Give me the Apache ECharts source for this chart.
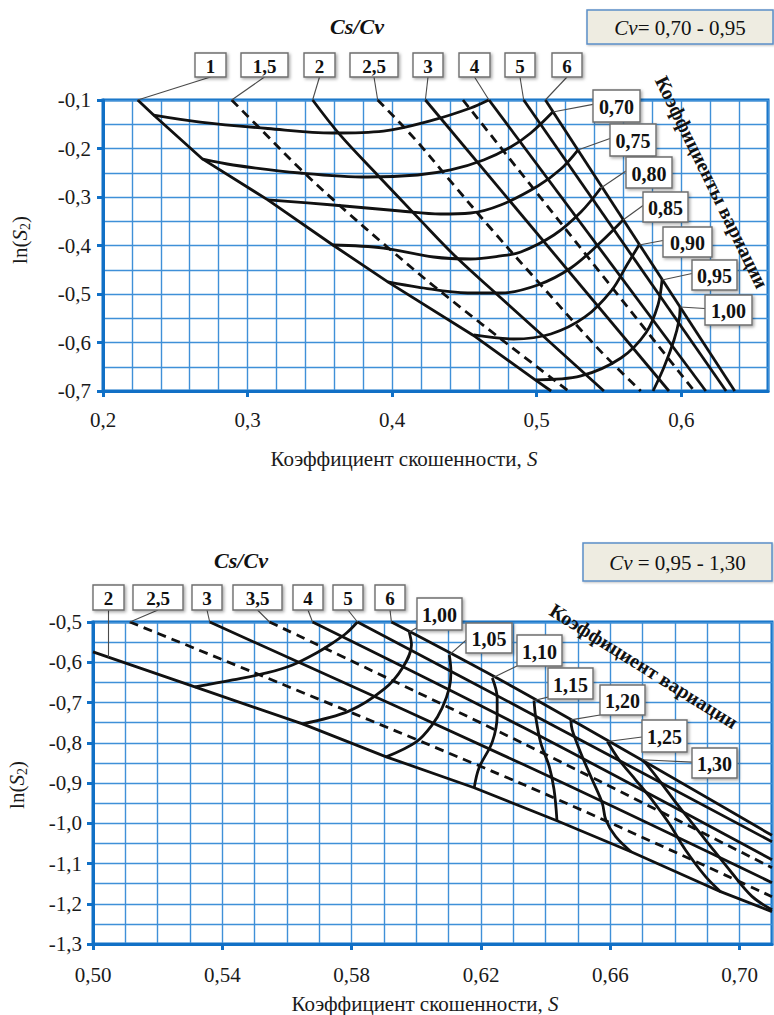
<!DOCTYPE html>
<html><head><meta charset="utf-8">
<script src="https://cdn.jsdelivr.net/npm/echarts@6/dist/echarts.min.js"></script>
<style>html,body{margin:0;padding:0;background:#fff}#c{width:774px;height:1015px}</style>
</head><body><div id="c"></div>
<script>
// ---------------- DATA ----------------
// tick labels
const topXTicks = [0.2, 0.3, 0.4, 0.5, 0.6];
const topYTicks = [-0.7, -0.6, -0.5, -0.4, -0.3, -0.2, -0.1];
const botXTicks = [0.50, 0.54, 0.58, 0.62, 0.66, 0.70];
const botYTicks = [-1.3, -1.2, -1.1, -1.0, -0.9, -0.8, -0.7, -0.6, -0.5];

// category labels
const topCsLabels = ['1', '1,5', '2', '2,5', '3', '4', '5', '6'];
const topCvLabels = ['0,70', '0,75', '0,80', '0,85', '0,90', '0,95', '1,00'];
const botCsLabels = ['2', '2,5', '3', '3,5', '4', '5', '6'];
const botCvLabels = ['1,00', '1,05', '1,10', '1,15', '1,20', '1,25', '1,30'];

// top chart, Cs/Cv lines  [S, ln(S2)]
const topCs1   = [[0.224,-0.1],[0.235,-0.131],[0.269,-0.222],[0.314,-0.306],[0.359,-0.399],[0.397,-0.475],[0.456,-0.585],[0.499,-0.677],[0.510,-0.7]];
const topCs1_5 = [[0.289,-0.1],[0.309,-0.16],[0.3365,-0.2425],[0.366,-0.3236],[0.397,-0.404],[0.429,-0.484],[0.473,-0.5875],[0.522,-0.7]];
const topCs2   = [[0.345,-0.1],[0.364,-0.172],[0.390,-0.255],[0.418,-0.343],[0.445,-0.426],[0.473,-0.502],[0.5465,-0.7]];
const topCs2_5 = [[0.390,-0.1],[0.415,-0.178],[0.4426,-0.275],[0.468,-0.364],[0.501,-0.475],[0.542,-0.611],[0.572,-0.7]];
const topCs3   = [[0.423,-0.1],[0.5915,-0.7]];
const topCs3_5 = [[0.449,-0.1],[0.609,-0.7]];
const topCs4   = [[0.467,-0.1],[0.617,-0.7]];
const topCs5   = [[0.491,-0.1],[0.631,-0.7]];
const topCs6   = [[0.506,-0.1],[0.637,-0.7]];

// top chart, Cv curves
const topCvTop = [[0.235,-0.131],[0.2672,-0.1454],[0.314,-0.1588],[0.359,-0.168],[0.394,-0.164],[0.4287,-0.141],[0.4543,-0.1165],[0.4668,-0.1]];
const topCv070 = [[0.269,-0.222],[0.290,-0.234],[0.3365,-0.2505],[0.383,-0.2588],[0.4176,-0.2546],[0.4405,-0.2443],[0.4633,-0.2237],[0.482,-0.197],[0.4959,-0.168],[0.5111,-0.1247]];
const topCv075 = [[0.314,-0.306],[0.359,-0.3165],[0.4058,-0.3289],[0.4335,-0.335],[0.4543,-0.333],[0.4751,-0.3165],[0.5008,-0.2773],[0.5167,-0.2423],[0.5285,-0.2031]];
const topCv080 = [[0.359,-0.399],[0.394,-0.4052],[0.4287,-0.4237],[0.4543,-0.4278],[0.4751,-0.4216],[0.489,-0.4134],[0.5119,-0.3784],[0.5306,-0.3309],[0.5444,-0.2814]];
const topCv085 = [[0.397,-0.475],[0.4176,-0.4856],[0.4523,-0.4979],[0.4751,-0.4979],[0.5008,-0.4814],[0.5236,-0.4464],[0.5444,-0.3928],[0.5597,-0.3474]];
const topCv090 = [[0.4564,-0.5845],[0.4841,-0.5928],[0.5098,-0.5825],[0.5334,-0.5474],[0.552,-0.4918],[0.5624,-0.4402],[0.5708,-0.399]];
const topCv095 = [[0.4994,-0.677],[0.5306,-0.669],[0.5583,-0.632],[0.5756,-0.58],[0.5839,-0.5227],[0.5867,-0.4711]];
const topCv100 = [[0.5805,-0.7],[0.5881,-0.6505],[0.595,-0.5948],[0.5985,-0.5536],[0.5992,-0.5268]];

// bottom chart, Cs/Cv lines
const botCs2   = [[0.5,-0.5744],[0.5315,-0.6613],[0.5648,-0.7531],[0.5907,-0.835],[0.6179,-0.9119],[0.6435,-0.9938],[0.6664,-1.0707],[0.6941,-1.17],[0.71,-1.2196]];
const botCs2_5 = [[0.5114,-0.5],[0.6333,-0.9045],[0.71,-1.1824]];
const botCs3   = [[0.5361,-0.5],[0.6333,-0.8548],[0.71,-1.1476]];
const botCs3_5 = [[0.5546,-0.5],[0.6333,-0.8027],[0.71,-1.1104]];
const botCs4   = [[0.5679,-0.5],[0.6333,-0.763],[0.71,-1.0906]];
const botCs5   = [[0.5818,-0.5],[0.6333,-0.7184],[0.71,-1.046]];
const botCs6   = [[0.5923,-0.5],[0.6333,-0.6762],[0.71,-1.030]];

// bottom chart, Cv curves
const botCvTop = [[0.5315,-0.6613],[0.5432,-0.6439],[0.5537,-0.6266],[0.5617,-0.6067],[0.5691,-0.5769],[0.5741,-0.5521],[0.5784,-0.5273],[0.5818,-0.5]];
const botCv100 = [[0.5648,-0.7531],[0.5793,-0.7208],[0.5901,-0.6663],[0.5957,-0.6141],[0.5985,-0.5571],[0.5978,-0.5248]];
const botCv105 = [[0.5907,-0.835],[0.6,-0.7978],[0.6049,-0.7556],[0.608,-0.7134],[0.6102,-0.6638],[0.6107,-0.6233],[0.6102,-0.5819]];
const botCv110 = [[0.6179,-0.9119],[0.6194,-0.8623],[0.6235,-0.7978],[0.625,-0.7308],[0.625,-0.6886],[0.6235,-0.639]];
const botCv115 = [[0.6435,-0.9938],[0.6426,-0.9169],[0.6411,-0.859],[0.6385,-0.801],[0.6369,-0.735],[0.6364,-0.695]];
const botCv120 = [[0.6664,-1.0707],[0.6616,-1.0328],[0.6586,-0.9913],[0.6575,-0.95],[0.6544,-0.892],[0.6513,-0.8342],[0.6482,-0.768],[0.6478,-0.7432]];
const botCv125 = [[0.6941,-1.17],[0.6894,-1.132],[0.6832,-1.0658],[0.6781,-0.9995],[0.6729,-0.9417],[0.6678,-0.892],[0.6627,-0.8424],[0.6591,-0.797]];
const botCv130 = [[0.71,-1.215],[0.7038,-1.1816],[0.6976,-1.1236],[0.6894,-1.041],[0.6812,-0.9583],[0.675,-0.892],[0.6709,-0.8506],[0.6698,-0.8424]];

// ---------------- LAYOUT / STYLE ----------------
const FONT = 'Liberation Serif';
const GRID = '#3f90d8';
const AXIS = '#1170c6';
const INK = '#111';

const topCsBoxes = [[195,31],[241,47],[304,31],[350,48],[413,30],[459,31],[505,30],[552,30]]; // x,w ; y=53 h=24
const topCvBoxes = [[593,90,47,32],[610,124,46,32],[626,157,46,31],[643,192,45,30],[663,227,49,30],[692,260,45,30],[705,295,47,30]];
const botCsBoxes = [[93,31],[133,50],[192,30],[233,49],[293,30],[333,30],[375,30]]; // y=585 h=25
const botCvBoxes = [[417,598,45,32,0.93],[466,623,46,30,0.57],[517,635,45,31,1.0],[548,668,45,31,0.94],[600,685,45,30,1.0],[642,720,45,32,0.53],[692,748,45,30,0.47]];

function fmt(v, d) { return v.toFixed(d).replace('.', ','); }

function xAxes(gi, min, max, step, ticks, dec, margin) {
  return [
    {gridIndex: gi, type: 'value', min, max, interval: step,
     axisLine: {show: false}, axisTick: {show: false}, axisLabel: {show: false},
     splitLine: {show: true, lineStyle: {color: GRID, width: 1.4}}},
    {gridIndex: gi, type: 'value', position: 'bottom', min, max,
     axisLine: {show: true, onZero: false, lineStyle: {color: AXIS, width: 3}},
     axisTick: {show: true, customValues: ticks, length: 6, lineStyle: {color: AXIS, width: 3}},
     axisLabel: {show: true, customValues: ticks, formatter: v => fmt(v, dec), margin,
                 color: '#1a1a1a', fontSize: 21, fontFamily: FONT},
     splitLine: {show: false}}
  ];
}
function yAxes(gi, min, max, step, ticks, margin) {
  return [
    {gridIndex: gi, type: 'value', min, max, interval: step,
     axisLine: {show: false}, axisTick: {show: false}, axisLabel: {show: false},
     splitLine: {show: true, lineStyle: {color: GRID, width: 1.4}}},
    {gridIndex: gi, type: 'value', position: 'left', min, max,
     axisLine: {show: true, onZero: false, lineStyle: {color: AXIS, width: 3}},
     axisTick: {show: true, customValues: ticks, length: 6, lineStyle: {color: AXIS, width: 3}},
     axisLabel: {show: true, customValues: ticks, formatter: v => fmt(v, 1), margin,
                 color: '#1a1a1a', fontSize: 21, fontFamily: FONT},
     splitLine: {show: false}}
  ];
}

function ser(data, gi, dashed, smooth) {
  return {type: 'line', xAxisIndex: gi * 2, yAxisIndex: gi * 2, data,
    symbol: 'none', showSymbol: false, smooth: smooth ? 0.35 : false, silent: true,
    animation: false, clip: true, z: 3, emphasis: {disabled: true},
    lineStyle: {color: INK, width: 2.8, type: dashed ? [9, 6] : 'solid', join: 'round'}};
}

const series = [
  ser(topCs1, 0, false, false), ser(topCs1_5, 0, true, true), ser(topCs2, 0, false, true),
  ser(topCs2_5, 0, true, true), ser(topCs3, 0, false), ser(topCs3_5, 0, true), ser(topCs4, 0, false),
  ser(topCs5, 0, false), ser(topCs6, 0, false),
  ser(topCvTop, 0, false, true), ser(topCv070, 0, false, true), ser(topCv075, 0, false, true),
  ser(topCv080, 0, false, true), ser(topCv085, 0, false, true), ser(topCv090, 0, false, true),
  ser(topCv095, 0, false, true), ser(topCv100, 0, false, true),
  ser(botCs2, 1, false, false), ser(botCs2_5, 1, true, true), ser(botCs3, 1, false, true),
  ser(botCs3_5, 1, true, true), ser(botCs4, 1, false, true), ser(botCs5, 1, false, true), ser(botCs6, 1, false, true),
  ser(botCvTop, 1, false, true), ser(botCv100, 1, false, true), ser(botCv105, 1, false, true),
  ser(botCv110, 1, false, true), ser(botCv115, 1, false, true), ser(botCv120, 1, false, true),
  ser(botCv125, 1, false, true), ser(botCv130, 1, false, true)
];

const chart = echarts.init(document.getElementById('c'), null, {renderer: 'svg', width: 774, height: 1015});
chart.setOption({
  backgroundColor: '#fff',
  animation: false,
  textStyle: {fontFamily: FONT},
  grid: [
    {left: 103, top: 100, width: 665, height: 291, show: true, borderColor: AXIS, borderWidth: 3, backgroundColor: 'transparent', containLabel: false, outerBoundsMode: 'none'},
    {left: 93, top: 622, width: 679, height: 322, show: true, borderColor: AXIS, borderWidth: 3, backgroundColor: 'transparent', containLabel: false, outerBoundsMode: 'none'}
  ],
  xAxis: [...xAxes(0, 0.2, 0.66, 0.02, topXTicks, 1, 18), ...xAxes(1, 0.5, 0.71, 0.01, botXTicks, 2, 20)],
  yAxis: [...yAxes(0, -0.7, -0.1, 0.05, topYTicks, 12), ...yAxes(1, -1.3, -0.5, 0.05, botYTicks, 11)],
  series
});

// ---------------- ANNOTATIONS ----------------
const G = [];
const px = (gi, p) => chart.convertToPixel({xAxisIndex: gi * 2, yAxisIndex: gi * 2}, p);
function leader(x1, y1, x2, y2) {
  G.push({type: 'line', z: 19, silent: true, shape: {x1, y1, x2, y2}, style: {stroke: '#4a4a4a', lineWidth: 1.1}});
}
function box(x, y, w, h, text, size) {
  G.push({type: 'rect', z: 20, silent: true, shape: {x, y, width: w, height: h},
    style: {fill: '#fff', stroke: '#6e6e6e', lineWidth: 1.4, shadowBlur: 3, shadowOffsetX: 1.5, shadowOffsetY: 1.5, shadowColor: 'rgba(0,0,0,0.35)'}});
  G.push({type: 'text', z: 21, silent: true, x: x + w / 2, y: y + h / 2 + 1,
    style: {text, fontSize: size, fontWeight: 'bold', fontFamily: FONT, fill: INK, align: 'center', verticalAlign: 'middle'}});
}
function interpY(pts, X) {
  for (let i = 0; i < pts.length - 1; i++) {
    const a = pts[i], b = pts[i + 1];
    if ((X - a[0]) * (X - b[0]) <= 0) return a[1] + (b[1] - a[1]) * (X - a[0]) / (b[0] - a[0]);
  }
  return pts[0][1];
}

// top Cs/Cv boxes
const topCsLines = [topCs1, topCs1_5, topCs2, topCs2_5, topCs3, topCs4, topCs5, topCs6];
topCsLabels.forEach((t, i) => {
  const [bx, bw] = topCsBoxes[i];
  const a = px(0, topCsLines[i][0]);
  leader(bx + bw / 2, 77, a[0], a[1]);
  box(bx, 53, bw, 24, t, 19);
});
// top Cv boxes
const topCvCurves = [topCv070, topCv075, topCv080, topCv085, topCv090, topCv095, topCv100];
topCvLabels.forEach((t, i) => {
  const [bx, by, bw, bh] = topCvBoxes[i];
  const c = topCvCurves[i];
  const a = px(0, c[c.length - 1]);
  leader(bx, by + bh * 0.45, a[0], a[1]);
  box(bx, by, bw, bh, t, 20);
});
// bottom Cs/Cv boxes
const botCsLines = [botCs2, botCs2_5, botCs3, botCs3_5, botCs4, botCs5, botCs6];
botCsLabels.forEach((t, i) => {
  const [bx, bw] = botCsBoxes[i];
  const cx = bx + bw / 2;
  let a;
  if (i === 0) {
    const X = chart.convertFromPixel({xAxisIndex: 2, yAxisIndex: 2}, [cx, 700])[0];
    a = px(1, [X, interpY(botCs2, X)]);
  } else {
    a = px(1, botCsLines[i][0]);
  }
  leader(cx, 610, a[0], a[1]);
  box(bx, 585, bw, 25, t, 19);
});
// bottom Cv boxes
const botCvCurves = [botCv100, botCv105, botCv110, botCv115, botCv120, botCv125, botCv130];
botCvLabels.forEach((t, i) => {
  const [bx, by, bw, bh, r] = botCvBoxes[i];
  const c = botCvCurves[i];
  const a = px(1, c[c.length - 1]);
  leader(bx, by + bh * r, a[0], a[1]);
  box(bx, by, bw, bh, t, 20);
});

// Cv range boxes
function rangeBox(x, y, w, h, rest) {
  G.push({type: 'rect', z: 20, silent: true, shape: {x, y, width: w, height: h},
    style: {fill: '#eeece1', stroke: '#5b8fc7', lineWidth: 1.5, shadowBlur: 2, shadowOffsetX: 1, shadowOffsetY: 1, shadowColor: 'rgba(0,0,0,0.25)'}});
  G.push({type: 'text', z: 21, silent: true, x: x + w / 2, y: y + h / 2 + 1,
    style: {text: '{i|Cv}{n|' + rest + '}', align: 'center', verticalAlign: 'middle',
      rich: {i: {fontStyle: 'italic', fontSize: 21, fontFamily: FONT, fill: INK},
             n: {fontSize: 21, fontFamily: FONT, fill: INK}}}});
}
rangeBox(587, 10, 186, 34, '= 0,70 - 0,95');
rangeBox(583, 543, 189, 38, ' = 0,95 - 1,30');

function plainText(x, y, text, opts) {
  G.push(Object.assign({type: 'text', z: 21, silent: true, x, y,
    style: Object.assign({text, fontFamily: FONT, fill: INK, align: 'center', verticalAlign: 'middle'}, opts.style || {})},
    opts.el || {}));
}
// titles
plainText(357, 26, 'Cs/Cv', {style: {fontSize: 22, fontWeight: 'bold', fontStyle: 'italic'}});
plainText(241, 560, 'Cs/Cv', {style: {fontSize: 22, fontWeight: 'bold', fontStyle: 'italic'}});
// rotated captions
plainText(712, 182, 'Коэффициенты вариации', {style: {fontSize: 20, fontWeight: 'bold'}, el: {rotation: -64 * Math.PI / 180}});
plainText(644, 666, 'Коэффициент вариации', {style: {fontSize: 20, fontWeight: 'bold'}, el: {rotation: -32 * Math.PI / 180}});
// axis names
const xName = '{n|Коэффициент скошенности, }{i|S}';
const nameRich = {n: {fontSize: 21, fontFamily: FONT, fill: '#1a1a1a'}, i: {fontSize: 21, fontStyle: 'italic', fontFamily: FONT, fill: '#1a1a1a'}};
plainText(404, 459, xName, {style: {rich: nameRich}});
plainText(425, 1004, xName, {style: {rich: nameRich}});
const yName = '{n|ln(}{i|S}{s|2}{n|)}';
const yRich = {n: {fontSize: 21, fontFamily: FONT, fill: '#1a1a1a', lineHeight: 24},
               i: {fontSize: 21, fontStyle: 'italic', fontFamily: FONT, fill: '#1a1a1a', lineHeight: 24},
               s: {fontSize: 14, fontFamily: FONT, fill: '#1a1a1a', verticalAlign: 'bottom', lineHeight: 24}};
plainText(20, 240, yName, {style: {rich: yRich}, el: {rotation: Math.PI / 2}});
plainText(17, 785, yName, {style: {rich: yRich}, el: {rotation: Math.PI / 2}});

chart.setOption({graphic: {elements: G}});
</script></body></html>
